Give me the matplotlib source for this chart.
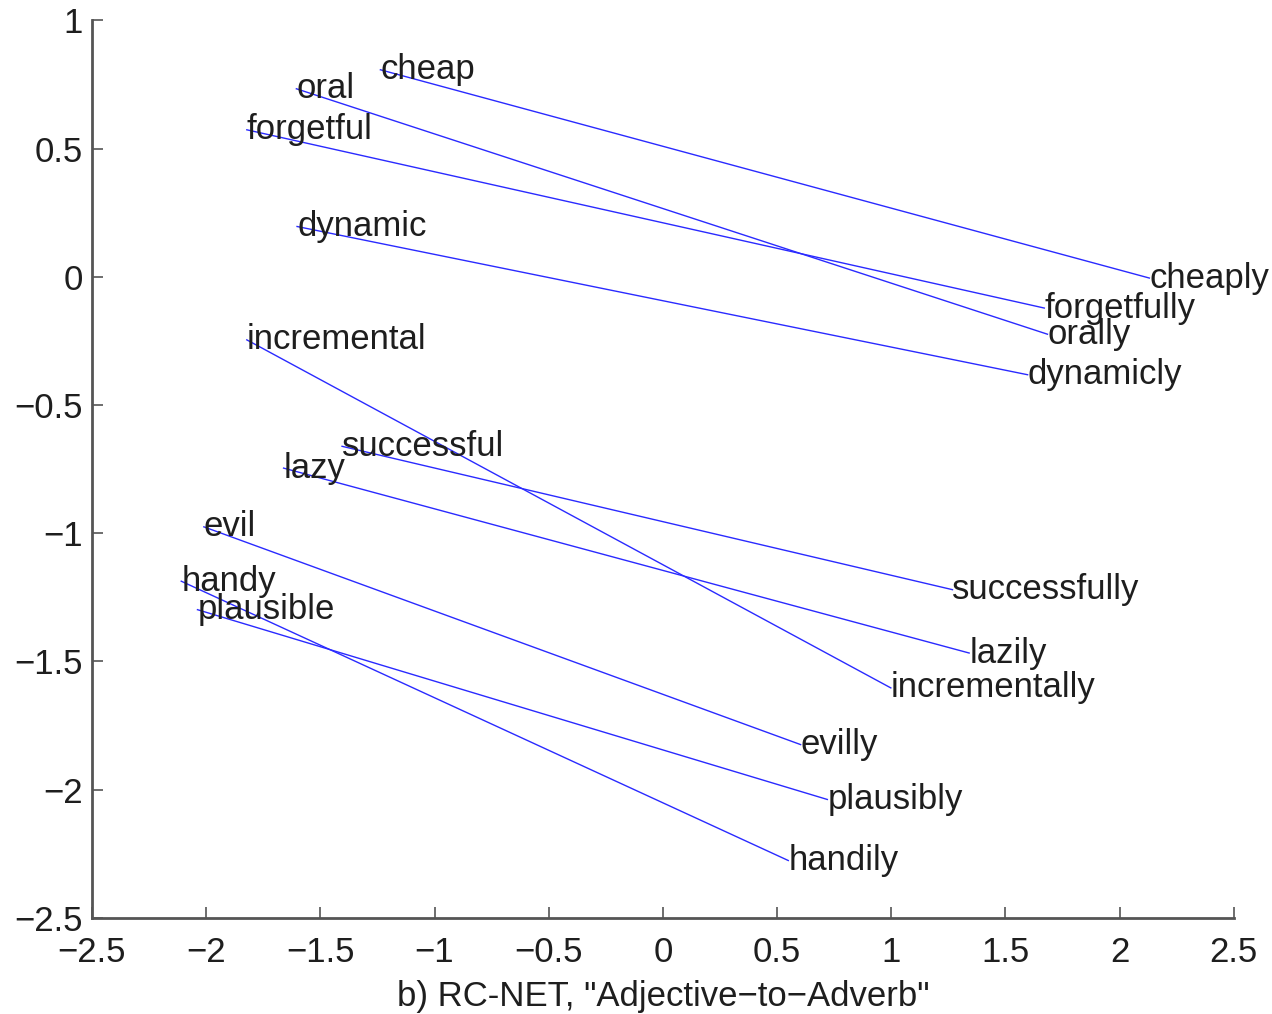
import matplotlib.pyplot as plt

plt.rcParams['font.family'] = ['Liberation Sans', 'DejaVu Sans']

# adjective -> adverb pairs, 2-D projected coordinates
adjectives = ['cheap', 'oral', 'forgetful', 'dynamic', 'incremental',
              'successful', 'lazy', 'evil', 'handy', 'plausible']
adj_x = [-1.237, -1.605, -1.822, -1.602, -1.822, -1.405, -1.661, -2.010, -2.109, -2.038]
adj_y = [0.807, 0.733, 0.573, 0.196, -0.246, -0.661, -0.746, -0.975, -1.187, -1.298]

adverbs = ['cheaply', 'orally', 'forgetfully', 'dynamicly', 'incrementally',
           'successfully', 'lazily', 'evilly', 'handily', 'plausibly']
adv_x = [2.130, 1.684, 1.670, 1.597, 0.998, 1.268, 1.341, 0.603, 0.549, 0.720]
adv_y = [-0.005, -0.224, -0.122, -0.382, -1.603, -1.220, -1.467, -1.824, -2.276, -2.038]

xticks = [-2.5, -2, -1.5, -1, -0.5, 0, 0.5, 1, 1.5, 2, 2.5]
yticks = [-2.5, -2, -1.5, -1, -0.5, 0, 0.5, 1]

fig = plt.figure(figsize=(12.72, 10.14), dpi=100)
ax = fig.add_axes([0.0723, 0.0947, 0.8977, 0.8853])

fs = 25
txtc = '#1e1e1e'
for i in range(len(adjectives)):
    ax.plot([adj_x[i], adv_x[i]], [adj_y[i], adv_y[i]], color='#2a2aff', lw=1.0)
    ax.text(adj_x[i], adj_y[i], adjectives[i], fontsize=fs, ha='left', va='center', color=txtc)
    ax.text(adv_x[i], adv_y[i], adverbs[i], fontsize=fs, ha='left', va='center', color=txtc)

ax.set_xlim(-2.5, 2.5)
ax.set_ylim(-2.5, 1)
ax.set_xticks(xticks)
ax.set_yticks(yticks)
ax.set_xticklabels([f'{t:g}'.replace('-', '\u2212') for t in xticks])
ax.set_yticklabels([f'{t:g}'.replace('-', '\u2212') for t in yticks])

for s in ['top', 'right']:
    ax.spines[s].set_visible(False)
for s in ['left', 'bottom']:
    ax.spines[s].set_color('#555555')
    ax.spines[s].set_linewidth(2)

ax.tick_params(direction='in', length=8, width=1.2, color='#555555',
               labelsize=fs, labelcolor=txtc)
ax.tick_params(axis='x', pad=13)
ax.tick_params(axis='y', pad=6.5)

ax.set_xlabel('b) RC-NET, "Adjective\u2212to\u2212Adverb"', fontsize=fs, color=txtc, labelpad=8)

fig.savefig('out.png', dpi=100)
